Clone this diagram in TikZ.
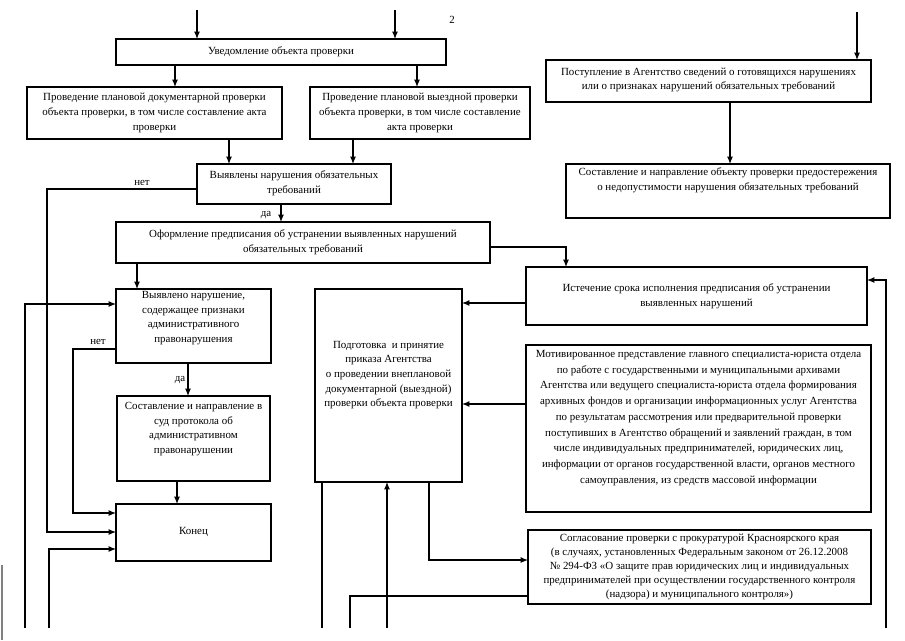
\documentclass[tikz,border=0pt]{standalone}
\usepackage{fontspec}
\setmainfont{Liberation Serif}
\usetikzlibrary{arrows.meta}
\newcommand{\mybox}[8][]{%
  \node[boxs, minimum width={(#5-#3)*0.75pt}, minimum height={(#6-#4)*0.75pt}] (#2) at (#3,#4) {};
  \node[txt,#1] (#2t) at ({(#3+#5)/2},#7) {#8};
}
\begin{document}
\begin{tikzpicture}[x=0.75pt,y=-0.75pt, line width=0.9pt,
  >={Latex[length=5.5pt,width=4.5pt]},
  boxs/.style={draw, inner sep=0pt, outer sep=0pt, anchor=north west},
  txt/.style={align=center, font=\fontsize{8.2}{11}\selectfont, inner sep=0pt},
  lbl/.style={font=\fontsize{8.2}{10}\selectfont, inner sep=0pt}]
\useasboundingbox (0,0) rectangle (905,640);

\mybox{notify}{116}{39}{446}{65}{52}{Уведомление объекта проверки}
\mybox{doc}{27}{87}{282}{139}{113}{Проведение плановой документарной проверки\\объекта проверки, в том числе составление акта\\проверки}
\mybox{field}{310}{87}{530}{139}{113}{Проведение плановой выездной проверки\\объекта проверки, в том числе составление\\акта проверки}
\mybox{found}{197}{164}{391}{204}{183}{Выявлены нарушения обязательных\\требований}
\mybox{order}{116}{222}{490}{263}{242}{Оформление предписания об устранении выявленных нарушений\\обязательных требований}
\mybox{admin}{116}{289}{271}{363}{318}{Выявлено нарушение,\\содержащее признаки\\административного\\правонарушения}
\mybox{court}{117}{396}{270}{481}{429}{Составление и направление в\\суд протокола об\\административном\\правонарушении}
\mybox{end}{116}{504}{271}{561}{532}{Конец}
\mybox{prep}{315}{289}{462}{482}{375}{Подготовка~ и принятие\\приказа Агентства\\о проведении внеплановой\\документарной (выездной)\\проверки объекта проверки}
\mybox{recv}{546}{60}{871}{102}{80}{Поступление в Агентство сведений о готовящихся нарушениях\\или о признаках нарушений обязательных требований}
\mybox{warn}{566}{164}{890}{218}{180}{Составление и направление объекту проверки предостережения\\о недопустимости нарушения обязательных требований}
\mybox{expire}{526}{267}{867}{325}{296}{Истечение срока исполнения предписания об устранении\\выявленных нарушений}
\mybox[font=\fontsize{8.2}{11.8}\selectfont]{motiv}{526}{345}{871}{512}{418}{Мотивированное представление главного специалиста-юриста отдела\\по работе с государственными и муниципальными архивами\\Агентства или ведущего специалиста-юриста отдела формирования\\архивных фондов и организации информационных услуг Агентства\\по результатам рассмотрения или предварительной проверки\\поступивших в Агентство обращений и заявлений граждан, в том\\числе индивидуальных предпринимателей, юридических лиц,\\информации от органов государственной власти, органов местного\\самоуправления, из средств массовой информации}
\mybox[font=\fontsize{8.2}{10.4}\selectfont]{agree}{528}{530}{871}{604}{567}{Согласование проверки с прокуратурой Красноярского края\\(в случаях, установленных Федеральным законом от 26.12.2008\\№ 294-ФЗ «О защите прав юридических лиц и индивидуальных\\предпринимателей при осуществлении государственного контроля\\(надзора) и муниципального контроля»)}

\node[lbl] (pnum) at (452,20) {2};

% helper coordinates
\coordinate (a1) at (197,10);
\coordinate (a2) at (395,10);
\coordinate (a3) at (857,12);
\foreach \xx in {25,47,49,73,137,175,177,188,229,281,322,350,353,387,417,429,566,730,886}
  {\coordinate (c\xx) at (\xx,0);}
\foreach \yy in {189,247,280,303,304,349,404,513,532,549,560,596,628}
  {\coordinate (r\yy) at (0,\yy);}

% top
\draw[->] (a1) -- (a1 |- notify.north);
\draw[->] (a2) -- (a2 |- notify.north);
\draw[->] (c175 |- notify.south) -- (c175 |- doc.north);
\draw[->] (c417 |- notify.south) -- (c417 |- field.north);
\draw[->] (c229 |- doc.south) -- (c229 |- found.north);
\draw[->] (c353 |- field.south) -- (c353 |- found.north);
\draw[->] (c281 |- found.south) -- (c281 |- order.north);
\node[lbl] (lda1) at (266,215) {да};
\draw[->] (found.west |- r189) -- (c47 |- r189) -- (c47 |- r532) -- (end.west |- r532);
\node[lbl] (lnet1) at (142,183) {нет};
\draw[->] (order.east |- r247) -- (c566 |- r247) -- (c566 |- expire.north);
\draw[->] (c137 |- order.south) -- (c137 |- admin.north);

% left column
\draw[->] (admin.west |- r349) -- (c73 |- r349) -- (c73 |- r513) -- (end.west |- r513);
\node[lbl] (lnet2) at (98,342) {нет};
\draw[->] (c188 |- admin.south) -- (c188 |- court.north);
\node[lbl] (lda2) at (180,380) {да};
\draw[->] (c177 |- court.south) -- (c177 |- end.north);
\draw[->] (c25 |- r628) -- (c25 |- r304) -- (admin.west |- r304);
\draw[->] (c49 |- r628) -- (c49 |- r549) -- (end.west |- r549);

% right side
\draw[->] (expire.west |- r303) -- (prep.east |- r303);
\draw[->] (motiv.west |- r404) -- (prep.east |- r404);
\draw[->] (c886 |- r628) -- (c886 |- r280) -- (expire.east |- r280);
\draw[->] (a3) -- (a3 |- recv.north);
\draw[->] (c730 |- recv.south) -- (c730 |- warn.north);

% bottom of prep
\draw (c322 |- prep.south) -- (c322 |- r628);
\draw[->] (c387 |- r628) -- (c387 |- prep.south);
\draw[->] (c429 |- prep.south) -- (c429 |- r560) -- (agree.west |- r560);
\draw (agree.west |- r596) -- (c350 |- r596) -- (c350 |- r628);

% scan edge mark
\draw[gray, line width=1pt] (2,565) -- (2,640);
\end{tikzpicture}
\end{document}
